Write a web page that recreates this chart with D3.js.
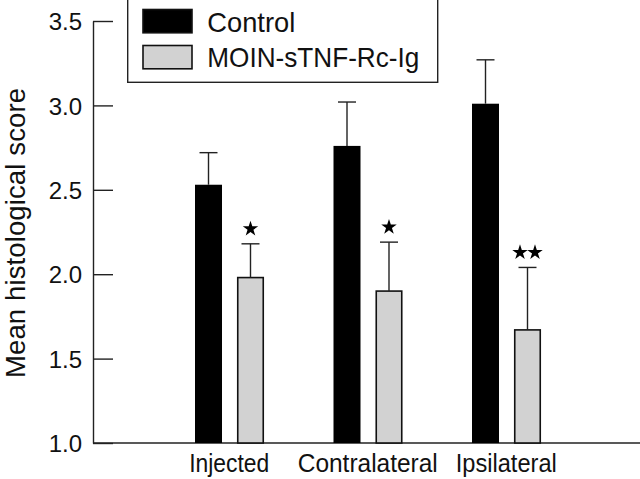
<!DOCTYPE html>
<html>
<head>
<meta charset="utf-8">
<script src="https://cdn.jsdelivr.net/npm/d3@7"></script>
<style>
  html, body { margin: 0; padding: 0; background: #fff; }
  svg { display: block; font-family: "Liberation Sans", Arial, sans-serif; }
</style>
</head>
<body>
<svg id="chart" width="640" height="479"></svg>
<script>
const categories = ["Injected", "Contralateral", "Ipsilateral"];
const seriesNames = ["Control", "MOIN-sTNF-Rc-Ig"];
const controlValues = [2.53, 2.76, 3.01];
const controlErrors = [0.19, 0.26, 0.26];
const moinValues = [1.98, 1.90, 1.67];
const moinErrors = [0.20, 0.29, 0.37];
const significance = [1, 1, 2]; // number of stars above MOIN bars
const yTicks = [1.0, 1.5, 2.0, 2.5, 3.0, 3.5];
const yTitle = "Mean histological score";

const svg = d3.select("#chart");
const W = 640;
const axisX = 93;

const y = d3.scaleLinear().domain([1, 3.5]).range([443, 21]);
const x = d3.scaleBand().domain(categories).range([160, 575.5]).padding(0);
const xs = d3.scaleBand().domain(seriesNames).range([35, 104]).paddingInner(0.357);

const colors = { "Control": "#000000", "MOIN-sTNF-Rc-Ig": "#d2d2d2" };

const data = [];
categories.forEach((c, i) => {
  data.push({ cat: c, s: seriesNames[0], v: controlValues[i], e: controlErrors[i], sig: 0 });
  data.push({ cat: c, s: seriesNames[1], v: moinValues[i], e: moinErrors[i], sig: significance[i] });
});

// Y axis
const yAxis = d3.axisLeft(y).tickValues(yTicks).tickFormat(d3.format(".1f"))
  .tickSizeInner(-20).tickSizeOuter(0).tickPadding(11);
const gy = svg.append("g").attr("transform", `translate(${axisX},0)`).call(yAxis);
gy.selectAll("path, line").attr("stroke", "#222").attr("stroke-width", 1.4);
gy.selectAll("text").attr("font-size", 24).attr("fill", "#111")
  .attr("font-family", "'Liberation Sans', Arial, sans-serif").attr("dy", "0.36em");

// baseline
svg.append("line")
  .attr("x1", axisX).attr("x2", W)
  .attr("y1", y(1)).attr("y2", y(1))
  .attr("stroke", "#222").attr("stroke-width", 1.4);

// Y title
svg.append("text")
  .attr("transform", `translate(25,${(88 + 378) / 2}) rotate(-90)`)
  .attr("text-anchor", "middle")
  .attr("font-size", 27.5).attr("fill", "#111")
  .attr("textLength", 290).attr("lengthAdjust", "spacing")
  .text(yTitle);

// Bars
const bars = svg.append("g");
bars.selectAll("rect").data(data).join("rect")
  .attr("x", d => x(d.cat) + xs(d.s) + (d.s === seriesNames[1] ? 0.75 : 0))
  .attr("y", d => y(d.v))
  .attr("width", d => xs.bandwidth() - (d.s === seriesNames[1] ? 1.5 : 0))
  .attr("height", d => y(1) - y(d.v))
  .attr("fill", d => colors[d.s])
  .attr("stroke", d => d.s === seriesNames[1] ? "#111" : "none")
  .attr("stroke-width", 1.6);

// Error bars (upper only)
const capW = 18;
const eb = svg.append("g").attr("stroke", "#222").attr("stroke-width", 1.4);
data.forEach(d => {
  const cx = x(d.cat) + xs(d.s) + xs.bandwidth() / 2;
  eb.append("line").attr("x1", cx).attr("x2", cx).attr("y1", y(d.v)).attr("y2", y(d.v + d.e));
  eb.append("line").attr("x1", cx - capW / 2).attr("x2", cx + capW / 2)
    .attr("y1", y(d.v + d.e)).attr("y2", y(d.v + d.e));
});

// Significance stars
const star = d3.symbol().type(d3.symbolStar).size(74);
data.filter(d => d.sig > 0).forEach(d => {
  const cx = x(d.cat) + xs(d.s) + xs.bandwidth() / 2;
  const cy = y(d.v + d.e) - 16;
  const sp = 15;
  for (let k = 0; k < d.sig; k++) {
    const sx = cx + (k - (d.sig - 1) / 2) * sp;
    svg.append("path").attr("d", star()).attr("fill", "#000")
      .attr("transform", `translate(${sx},${cy + 1})`);
  }
});

// Category labels
const catWidths = { "Injected": 80, "Contralateral": 140, "Ipsilateral": 101 };
svg.append("g").selectAll("text").data(categories).join("text")
  .attr("x", d => x(d) + x.bandwidth() / 2)
  .attr("y", 471.5)
  .attr("text-anchor", "middle")
  .attr("font-size", 25).attr("fill", "#111")
  .attr("textLength", d => catWidths[d]).attr("lengthAdjust", "spacingAndGlyphs")
  .text(d => d);

// Legend
const lg = svg.append("g");
lg.append("rect").attr("x", 127.7).attr("y", -1).attr("width", 310).attr("height", 83.3)
  .attr("fill", "#fff").attr("stroke", "#222").attr("stroke-width", 1.4);
const legW = { "Control": 88, "MOIN-sTNF-Rc-Ig": 212 };
seriesNames.forEach((s, i) => {
  const top = i === 0 ? 9.5 : 45.5;
  lg.append("rect").attr("x", 143).attr("y", top).attr("width", 49).attr("height", 23.3)
    .attr("fill", colors[s]).attr("stroke", "#111").attr("stroke-width", 1.6);
  lg.append("text").attr("x", 207.3).attr("y", i === 0 ? 31.8 : 66.8)
    .attr("font-size", 28).attr("fill", "#111")
    .attr("textLength", legW[s]).attr("lengthAdjust", "spacingAndGlyphs")
    .text(s);
});
</script>
</body>
</html>
